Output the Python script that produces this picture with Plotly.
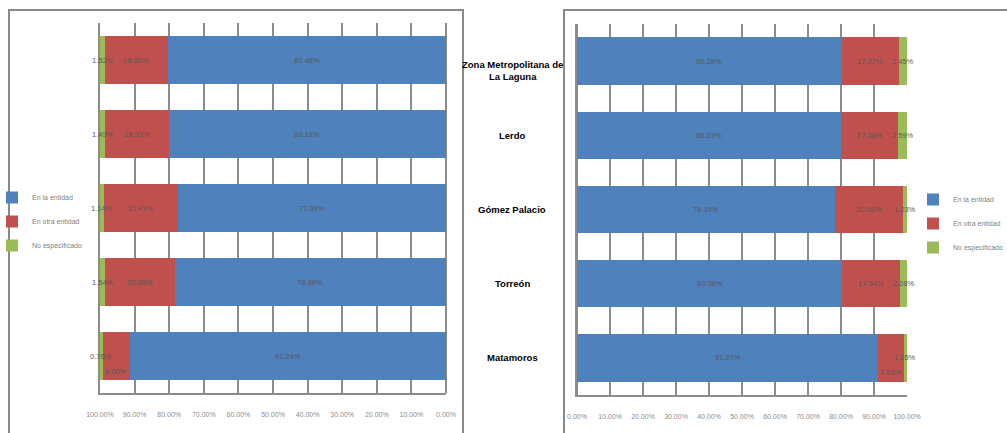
import plotly.graph_objects as go

W, H = 1007, 433

# Municipios (top to bottom) and their display labels
municipios = ["Zona Metropolitana de La Laguna", "Lerdo", "Gómez Palacio", "Torreón", "Matamoros"]
etiquetas = ["Zona Metropolitana de<br>La Laguna", "Lerdo", "Gómez Palacio", "Torreón", "Matamoros"]

series = ["En la entidad", "En otra entidad", "No especificado"]
colores = ["#4F81BD", "#C0504D", "#9BBB59"]

# Left panel (mirrored axis) percentages
izq_en_la_entidad = [80.48, 80.18, 77.39, 78.38, 91.24]
izq_en_otra_entidad = [18.00, 18.33, 21.47, 20.08, 8.00]
izq_no_especificado = [1.52, 1.49, 1.14, 1.54, 0.76]

# Right panel percentages
der_en_la_entidad = [80.28, 80.03, 78.19, 80.38, 91.27]
der_en_otra_entidad = [17.27, 17.38, 20.58, 17.54, 7.68]
der_no_especificado = [2.45, 2.59, 1.23, 2.08, 1.05]

ticks_pct = list(range(0, 101, 10))
ticks_txt = [f"{t:.2f}%" for t in ticks_pct]

FUENTE = "Liberation Sans Narrow, Arial Narrow, Liberation Sans, Arial, sans-serif"


def px_x(p):
    return p / W


def px_y(p):
    return 1 - p / H


fig = go.Figure()

paneles = [
    ("x", "y", "legend", [izq_en_la_entidad, izq_en_otra_entidad, izq_no_especificado]),
    ("x2", "y2", "legend2", [der_en_la_entidad, der_en_otra_entidad, der_no_especificado]),
]

for xa, ya, leg, datos in paneles:
    for nombre, color, vals in zip(series, colores, datos):
        fig.add_trace(go.Bar(
            x=vals, y=municipios, orientation="h", name=nombre,
            marker=dict(color=color, line=dict(width=0)),
            width=0.64, xaxis=xa, yaxis=ya, legend=leg,
            legendgroup=nombre + leg, hoverinfo="skip",
        ))

# Value labels centred on each stacked segment
anotaciones = []
for xa, ya, _, datos in paneles:
    for i, cat in enumerate(municipios):
        base = 0.0
        for k, vals in enumerate(datos):
            v = vals[i]
            centro = base + v / 2
            base += v
            dy = 0
            if cat == "Matamoros":
                dy = -15 if k == 1 else 0
            anotaciones.append(dict(
                x=centro, y=cat, xref=xa, yref=ya, text=f"{v:.2f}%",
                showarrow=False, yshift=dy,
                font=dict(family=FUENTE, size=7.5, color="#595959"),
            ))

# Category names between the two panels
for cat, txt in zip(municipios, etiquetas):
    anotaciones.append(dict(
        x=px_x(512), xref="paper", y=cat, yref="y2", text=f"<b>{txt}</b>",
        showarrow=False, xanchor="center",
        yshift=-9 if "<br>" in txt else 0,
        font=dict(family=FUENTE, size=9.5, color="#000000"),
    ))

eje_x = dict(
    range=[0, 100], tickmode="array", tickvals=ticks_pct, ticktext=ticks_txt,
    showgrid=True, gridcolor="#8c8c8c", gridwidth=2,
    zeroline=True, zerolinecolor="#8c8c8c", zerolinewidth=2,
    showline=True, linecolor="#8c8c8c", linewidth=2,
    ticks="", ticklabelstandoff=14, fixedrange=True,
    tickfont=dict(family=FUENTE, size=7, color="#8c8c8c"),
)
eje_y = dict(
    categoryorder="array", categoryarray=municipios, autorange="reversed",
    showticklabels=False, ticks="", showgrid=False,
    showline=True, linecolor="#8c8c8c", linewidth=2, fixedrange=True,
)

leyenda = dict(
    font=dict(family=FUENTE, size=7, color="#7f7f7f"),
    bgcolor="rgba(0,0,0,0)", traceorder="grouped", tracegroupgap=5,
    itemwidth=30, yanchor="top", xanchor="left",
)

fig.update_layout(
    width=W, height=H, margin=dict(l=0, r=0, t=0, b=0, autoexpand=False),
    paper_bgcolor="white", plot_bgcolor="white",
    barmode="stack", bargap=0.36,
    xaxis=dict(eje_x, domain=[px_x(100), px_x(446)], anchor="y", range=[100, 0]),
    yaxis=dict(eje_y, domain=[px_y(393), px_y(23)], anchor="x"),
    xaxis2=dict(eje_x, domain=[px_x(577), px_x(907)], anchor="y2"),
    yaxis2=dict(eje_y, domain=[px_y(395), px_y(24)], anchor="x2"),
    legend=dict(leyenda, x=px_x(-8), y=px_y(183)),
    legend2=dict(leyenda, x=px_x(913), y=px_y(185)),
    annotations=anotaciones,
    shapes=[
        dict(type="rect", xref="paper", yref="paper",
             x0=px_x(9), x1=px_x(463), y0=-0.05, y1=px_y(10),
             line=dict(color="#8a8a8a", width=2), layer="below"),
        dict(type="rect", xref="paper", yref="paper",
             x0=px_x(564), x1=1.05, y0=-0.05, y1=px_y(10),
             line=dict(color="#8a8a8a", width=2), layer="below"),
    ],
)

fig.write_html("out.html")
